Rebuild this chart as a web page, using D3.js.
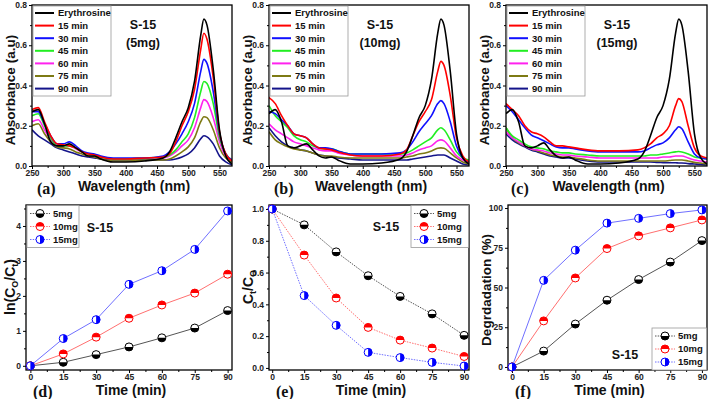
<!DOCTYPE html>
<html>
<head>
<meta charset="utf-8">
<script src="https://cdn.jsdelivr.net/npm/d3@7"></script>
<style>
body { margin: 0; background: #fff; }
text { font-family: "Liberation Sans", Arial, sans-serif; font-weight: bold; }
</style>
</head>
<body>
<script>
// wavelengths (nm) sampled off the spectra
const wavelength = [250,260,270,280,290,300,310,320,330,340,350,360,380,400,430,460,470,480,490,500,510,520,525,530,540,550,560,570];
const seriesNames = ["Erythrosine", "15 min", "30 min", "45 min", "60 min", "75 min", "90 min"];
const seriesColors = ["#000000", "#ff0000", "#1010ff", "#22ee22", "#ff22ee", "#7d7a14", "#14148a"];

// absorbance, S-15 5mg
const abs5mg = [
  [0.27,0.28,0.21,0.12,0.10,0.10,0.11,0.09,0.07,0.05,0.05,0.035,0.02,0.02,0.025,0.04,0.07,0.14,0.22,0.29,0.42,0.65,0.73,0.70,0.48,0.18,0.05,0.01],
  [0.28,0.29,0.22,0.15,0.11,0.105,0.10,0.09,0.07,0.06,0.055,0.045,0.035,0.035,0.04,0.045,0.06,0.12,0.20,0.27,0.38,0.58,0.66,0.63,0.44,0.17,0.06,0.025],
  [0.27,0.27,0.21,0.15,0.11,0.11,0.12,0.10,0.075,0.065,0.06,0.05,0.04,0.04,0.04,0.05,0.07,0.11,0.16,0.22,0.31,0.47,0.53,0.51,0.37,0.16,0.06,0.03],
  [0.25,0.26,0.20,0.14,0.10,0.10,0.10,0.09,0.07,0.06,0.055,0.045,0.035,0.035,0.04,0.045,0.055,0.08,0.12,0.16,0.24,0.37,0.42,0.41,0.31,0.14,0.06,0.03],
  [0.22,0.23,0.18,0.13,0.10,0.10,0.10,0.085,0.07,0.06,0.055,0.045,0.035,0.035,0.04,0.04,0.05,0.07,0.10,0.13,0.19,0.29,0.33,0.32,0.24,0.12,0.05,0.03],
  [0.20,0.21,0.16,0.12,0.095,0.09,0.085,0.07,0.06,0.05,0.045,0.035,0.025,0.025,0.03,0.03,0.035,0.05,0.07,0.095,0.14,0.22,0.245,0.24,0.18,0.09,0.04,0.02],
  [0.18,0.15,0.13,0.11,0.09,0.08,0.07,0.06,0.05,0.045,0.04,0.035,0.03,0.03,0.03,0.03,0.03,0.035,0.045,0.06,0.09,0.135,0.15,0.145,0.11,0.05,0.02,0.005]
];
// absorbance, S-15 10mg
const abs10mg = [
  [0.26,0.28,0.22,0.10,0.09,0.10,0.11,0.08,0.05,0.04,0.045,0.03,0.01,0.01,0.015,0.035,0.07,0.15,0.24,0.30,0.43,0.66,0.73,0.70,0.47,0.16,0.04,0.01],
  [0.34,0.31,0.25,0.20,0.16,0.15,0.14,0.11,0.09,0.085,0.08,0.07,0.055,0.05,0.05,0.06,0.08,0.15,0.22,0.27,0.33,0.47,0.52,0.50,0.35,0.14,0.05,0.02],
  [0.27,0.26,0.23,0.20,0.16,0.15,0.14,0.11,0.09,0.09,0.085,0.075,0.06,0.06,0.06,0.065,0.08,0.12,0.17,0.21,0.25,0.31,0.325,0.31,0.22,0.10,0.04,0.02],
  [0.30,0.25,0.22,0.19,0.15,0.13,0.12,0.10,0.09,0.085,0.085,0.075,0.06,0.06,0.06,0.06,0.065,0.08,0.10,0.12,0.14,0.18,0.19,0.18,0.13,0.07,0.04,0.03],
  [0.21,0.18,0.16,0.14,0.12,0.11,0.10,0.09,0.08,0.075,0.075,0.065,0.055,0.05,0.05,0.05,0.055,0.065,0.08,0.09,0.10,0.125,0.13,0.125,0.09,0.05,0.03,0.02],
  [0.17,0.13,0.11,0.095,0.085,0.08,0.075,0.065,0.055,0.05,0.05,0.045,0.04,0.04,0.04,0.04,0.045,0.05,0.06,0.065,0.075,0.088,0.09,0.088,0.065,0.04,0.02,0.01],
  [0.19,0.15,0.12,0.10,0.09,0.08,0.075,0.065,0.055,0.05,0.045,0.04,0.035,0.03,0.03,0.03,0.03,0.035,0.04,0.045,0.05,0.055,0.055,0.055,0.04,0.025,0.01,0.005]
];
// absorbance, S-15 15mg
const abs15mg = [
  [0.26,0.28,0.22,0.10,0.09,0.10,0.115,0.08,0.05,0.04,0.045,0.03,0.01,0.01,0.015,0.035,0.07,0.15,0.24,0.30,0.43,0.66,0.73,0.70,0.47,0.16,0.04,0.01],
  [0.31,0.28,0.25,0.20,0.17,0.16,0.145,0.12,0.10,0.10,0.095,0.09,0.08,0.075,0.075,0.08,0.09,0.11,0.14,0.16,0.20,0.30,0.335,0.32,0.20,0.09,0.05,0.04],
  [0.30,0.27,0.23,0.19,0.155,0.14,0.125,0.11,0.095,0.09,0.09,0.085,0.075,0.07,0.07,0.07,0.075,0.09,0.105,0.115,0.14,0.18,0.195,0.185,0.12,0.06,0.04,0.035],
  [0.19,0.15,0.13,0.11,0.095,0.09,0.085,0.075,0.07,0.065,0.065,0.06,0.055,0.05,0.05,0.05,0.05,0.055,0.055,0.06,0.065,0.07,0.072,0.07,0.06,0.045,0.04,0.035],
  [0.17,0.14,0.12,0.10,0.085,0.08,0.075,0.065,0.06,0.055,0.055,0.05,0.045,0.04,0.04,0.04,0.04,0.04,0.04,0.045,0.045,0.05,0.05,0.05,0.04,0.03,0.025,0.02],
  [0.19,0.14,0.115,0.10,0.085,0.075,0.065,0.055,0.05,0.045,0.045,0.04,0.03,0.025,0.025,0.025,0.025,0.025,0.025,0.025,0.027,0.03,0.03,0.03,0.025,0.018,0.015,0.01],
  [0.16,0.13,0.11,0.095,0.08,0.07,0.06,0.05,0.045,0.04,0.04,0.035,0.025,0.02,0.02,0.02,0.02,0.02,0.018,0.017,0.016,0.016,0.015,0.015,0.012,0.01,0.008,0.005]
];

// kinetics
const time = [0, 15, 30, 45, 60, 75, 90];
const doses = ["5mg", "10mg", "15mg"];
const doseColors = ["#000000", "#ff0000", "#0000ff"];
const doseLineColors = ["#555555", "#ff7070", "#7070ff"];
const lnRatio = [
  [0, 0.10, 0.32, 0.54, 0.80, 1.08, 1.58],
  [0, 0.34, 0.82, 1.36, 1.74, 2.08, 2.62],
  [0, 0.78, 1.32, 2.33, 2.72, 3.33, 4.43]
];
const ctRatio = [
  [1.0, 0.90, 0.73, 0.58, 0.45, 0.34, 0.205],
  [1.0, 0.71, 0.44, 0.255, 0.175, 0.125, 0.072],
  [1.0, 0.455, 0.268, 0.098, 0.065, 0.035, 0.012]
];
const degradation = [
  [0, 10, 27, 42, 55, 66, 79.5],
  [0, 29, 56, 74.5, 82.5, 87.5, 92.5],
  [0, 54.5, 73.5, 90.5, 93.5, 96.5, 98.8]
];

let svg = d3.select("body").append("svg")
  .attr("width", 709)
  .attr("height", 399);

//draws frame + ticks for a panel
function axes(x, y, xTicks, xMinor, yTicks, yMinor, yFmt) {
  let g = svg.append("g");
  let [x0, x1] = x.range();
  let [y0, y1] = y.range();

  g.append("g").attr("transform", `translate(0,${y0})`)
    .call(d3.axisBottom(x).tickValues(xTicks).tickSize(3).tickPadding(1));
  g.append("g").attr("transform", `translate(0,${y0})`)
    .call(d3.axisBottom(x).tickValues(xMinor).tickSize(2).tickFormat(""));
  g.append("g").attr("transform", `translate(${x0},0)`)
    .call(d3.axisLeft(y).tickValues(yTicks).tickSize(3).tickPadding(2).tickFormat(yFmt));
  g.append("g").attr("transform", `translate(${x0},0)`)
    .call(d3.axisLeft(y).tickValues(yMinor).tickSize(2).tickFormat(""));

  g.selectAll(".domain").remove();
  g.selectAll(".tick line").attr("stroke", "#000").attr("stroke-width", 1);
  g.selectAll(".tick text").attr("font-size", 8.5).attr("font-weight", "bold").attr("fill", "#222");

  g.append("rect")
    .attr("x", x0).attr("y", y1)
    .attr("width", x1 - x0).attr("height", y0 - y1)
    .attr("fill", "none").attr("stroke", "#000").attr("stroke-width", 1.3);
  return g;
}

function title(txt, x, y, size, rotate) {
  let t = svg.append("text")
    .attr("transform", `translate(${x},${y})` + (rotate ? " rotate(-90)" : ""))
    .attr("text-anchor", "middle")
    .attr("font-size", size)
    .attr("fill", "#111");
  return t.text(txt);
}

function panelLabel(txt, x, y) {
  svg.append("text")
    .attr("x", x).attr("y", y)
    .style("font-family", "'Liberation Serif', 'Times New Roman', serif")
    .attr("font-size", 16)
    .attr("fill", "#111")
    .text(txt);
}

function spectra(left, right, data, mass, letter, idx) {
  let x = d3.scaleLinear().domain([250, 570]).range([left, right]);
  let y = d3.scaleLinear().domain([0, 0.8]).range([166, 5]);

  let clipId = "clip" + idx;
  svg.append("clipPath").attr("id", clipId)
    .append("rect").attr("x", left).attr("y", 5).attr("width", right - left).attr("height", 161);

  let line = d3.line()
    .x((d, i) => x(wavelength[i]))
    .y(d => y(d))
    .curve(d3.curveMonotoneX);

  svg.append("g").attr("clip-path", `url(#${clipId})`)
    .selectAll("path")
    .data(data.slice().reverse())
    .enter().append("path")
    .attr("d", line)
    .attr("fill", "none")
    .attr("stroke", (d, i) => seriesColors[data.length - 1 - i])
    .attr("stroke-width", 1.6);

  axes(x, y, d3.range(250, 551, 50), d3.range(275, 570, 50),
    d3.range(0, 0.81, 0.2), d3.range(0.1, 0.8, 0.2), d3.format(".1f"));

  // legend
  let lg = svg.append("g").attr("transform", `translate(${left + 1},6)`);
  lg.append("rect").attr("width", 78).attr("height", 90)
    .attr("fill", "#fff").attr("stroke", "#999").attr("stroke-width", 0.8);
  seriesNames.forEach((name, i) => {
    let yy = 7 + i * 12.6;
    lg.append("line").attr("x1", 2).attr("x2", 21).attr("y1", yy).attr("y2", yy)
      .attr("stroke", seriesColors[i]).attr("stroke-width", 2);
    lg.append("text").attr("x", 25).attr("y", yy + 3.3)
      .attr("font-size", 9.5).attr("fill", "#111").text(name);
  });

  svg.append("text").attr("x", left + 111).attr("y", 29).attr("text-anchor", "middle")
    .attr("font-size", 12.5).attr("fill", "#111").text("S-15");
  svg.append("text").attr("x", left + 111).attr("y", 47).attr("text-anchor", "middle")
    .attr("font-size", 12.5).attr("fill", "#111").text("(" + mass + ")");

  title("Absorbance (a.u)", left - 17, 90, 13.5, true);
  title("Wavelength (nm)", (left + right) / 2 + 2, 191, 14, false);
  panelLabel("(" + letter + ")", left + 5, 194);
}

spectra(32, 232, abs5mg, "5mg", "a", 0);
spectra(269, 469, abs10mg, "10mg", "b", 1);
spectra(506, 707, abs15mg, "15mg", "c", 2);

// half-filled circle marker
function marker(g, cx, cy, k) {
  let r = 4;
  let m = g.append("g").attr("transform", `translate(${cx},${cy})`);
  m.append("circle").attr("r", r).attr("fill", "#fff");
  let half;
  if (k === 0) half = `M${-r},0 A${r},${r} 0 0 0 ${r},0 Z`;       // bottom half
  else if (k === 1) half = `M${-r},0 A${r},${r} 0 0 1 ${r},0 Z`;  // top half
  else half = `M0,${-r} A${r},${r} 0 0 1 0,${r} Z`;               // right half
  m.append("path").attr("d", half).attr("fill", doseColors[k]);
  m.append("circle").attr("r", r).attr("fill", "none")
    .attr("stroke", doseColors[k]).attr("stroke-width", 1);
}

function kinetics(left, right, xDom, yDom, data, yTicks, yMinor, yFmt, dashed, legendPos, s15Pos, letter) {
  let x = d3.scaleLinear().domain(xDom).range([left, right]);
  let y = d3.scaleLinear().domain(yDom).range([370, 205]);

  axes(x, y, time, d3.range(7.5, 90, 15), yTicks, yMinor, yFmt);

  let line = d3.line().x((d, i) => x(time[i])).y(d => y(d));
  let g = svg.append("g");
  data.forEach((series, k) => {
    g.append("path").attr("d", line(series))
      .attr("fill", "none").attr("stroke", doseLineColors[k]).attr("stroke-width", 1)
      .attr("stroke-dasharray", dashed ? "1.5,1.2" : null);
    series.forEach((v, i) => marker(g, x(time[i]), y(v), k));
  });

  // legend
  let lg = svg.append("g").attr("transform", `translate(${legendPos[0]},${legendPos[1]})`);
  lg.append("rect").attr("width", legendPos[2]).attr("height", 42)
    .attr("fill", "#fff").attr("stroke", "#999").attr("stroke-width", 0.8);
  doses.forEach((name, i) => {
    let yy = 8 + i * 13;
    lg.append("line").attr("x1", 3).attr("x2", 23).attr("y1", yy).attr("y2", yy)
      .attr("stroke", doseLineColors[i]).attr("stroke-width", 1)
      .attr("stroke-dasharray", "1.5,1.2");
    marker(lg, 13, yy, i);
    lg.append("text").attr("x", 26).attr("y", yy + 3.4)
      .attr("font-size", 9.5).attr("fill", "#111").text(name);
  });

  svg.append("text").attr("x", s15Pos[0]).attr("y", s15Pos[1]).attr("text-anchor", "middle")
    .attr("font-size", 12.5).attr("fill", "#111").text("S-15");

  title("Time (min)", (left + right) / 2 + 2, 395, 14, false);
  panelLabel("(" + letter + ")", left + 7, 397);
}

kinetics(26, 232, [-2, 92], [-0.12, 4.6], lnRatio, [0, 1, 2, 3, 4], [0.5, 1.5, 2.5, 3.5, 4.5], d3.format("d"),
  false, [27, 205.5, 52], [100, 232], "d");
kinetics(269, 469, [-1.5, 92.3], [-0.013, 1.025], ctRatio, d3.range(0, 1.01, 0.2), d3.range(0.1, 1, 0.2), d3.format(".1f"),
  true, [411, 205.5, 57.5], [386, 231], "e");
kinetics(508, 707, [-1.9, 92.4], [-1.9, 101.9], degradation, [0, 25, 50, 75, 100], [12.5, 37.5, 62.5, 87.5], d3.format("d"),
  false, [652, 328, 54.5], [625, 359], "f");

// y titles with subscripts
let t1 = svg.append("text").attr("transform", "translate(15,287) rotate(-90)")
  .attr("text-anchor", "middle").attr("font-size", 14).attr("fill", "#111");
t1.append("tspan").text("ln(C");
t1.append("tspan").attr("font-size", 9).attr("dy", 3).text("O");
t1.append("tspan").attr("dy", -3).text("/C");
t1.append("tspan").attr("font-size", 9).attr("dy", 3).text("t");
t1.append("tspan").attr("dy", -3).text(")");

let t2 = svg.append("text").attr("transform", "translate(253,287) rotate(-90)")
  .attr("text-anchor", "middle").attr("font-size", 14).attr("fill", "#111");
t2.append("tspan").text("C");
t2.append("tspan").attr("font-size", 9).attr("dy", 3).text("t");
t2.append("tspan").attr("dy", -3).text("/C");
t2.append("tspan").attr("font-size", 9).attr("dy", 3).text("O");

title("Degrdadation (%)", 491, 290, 13.5, true);
</script>
</body>
</html>
